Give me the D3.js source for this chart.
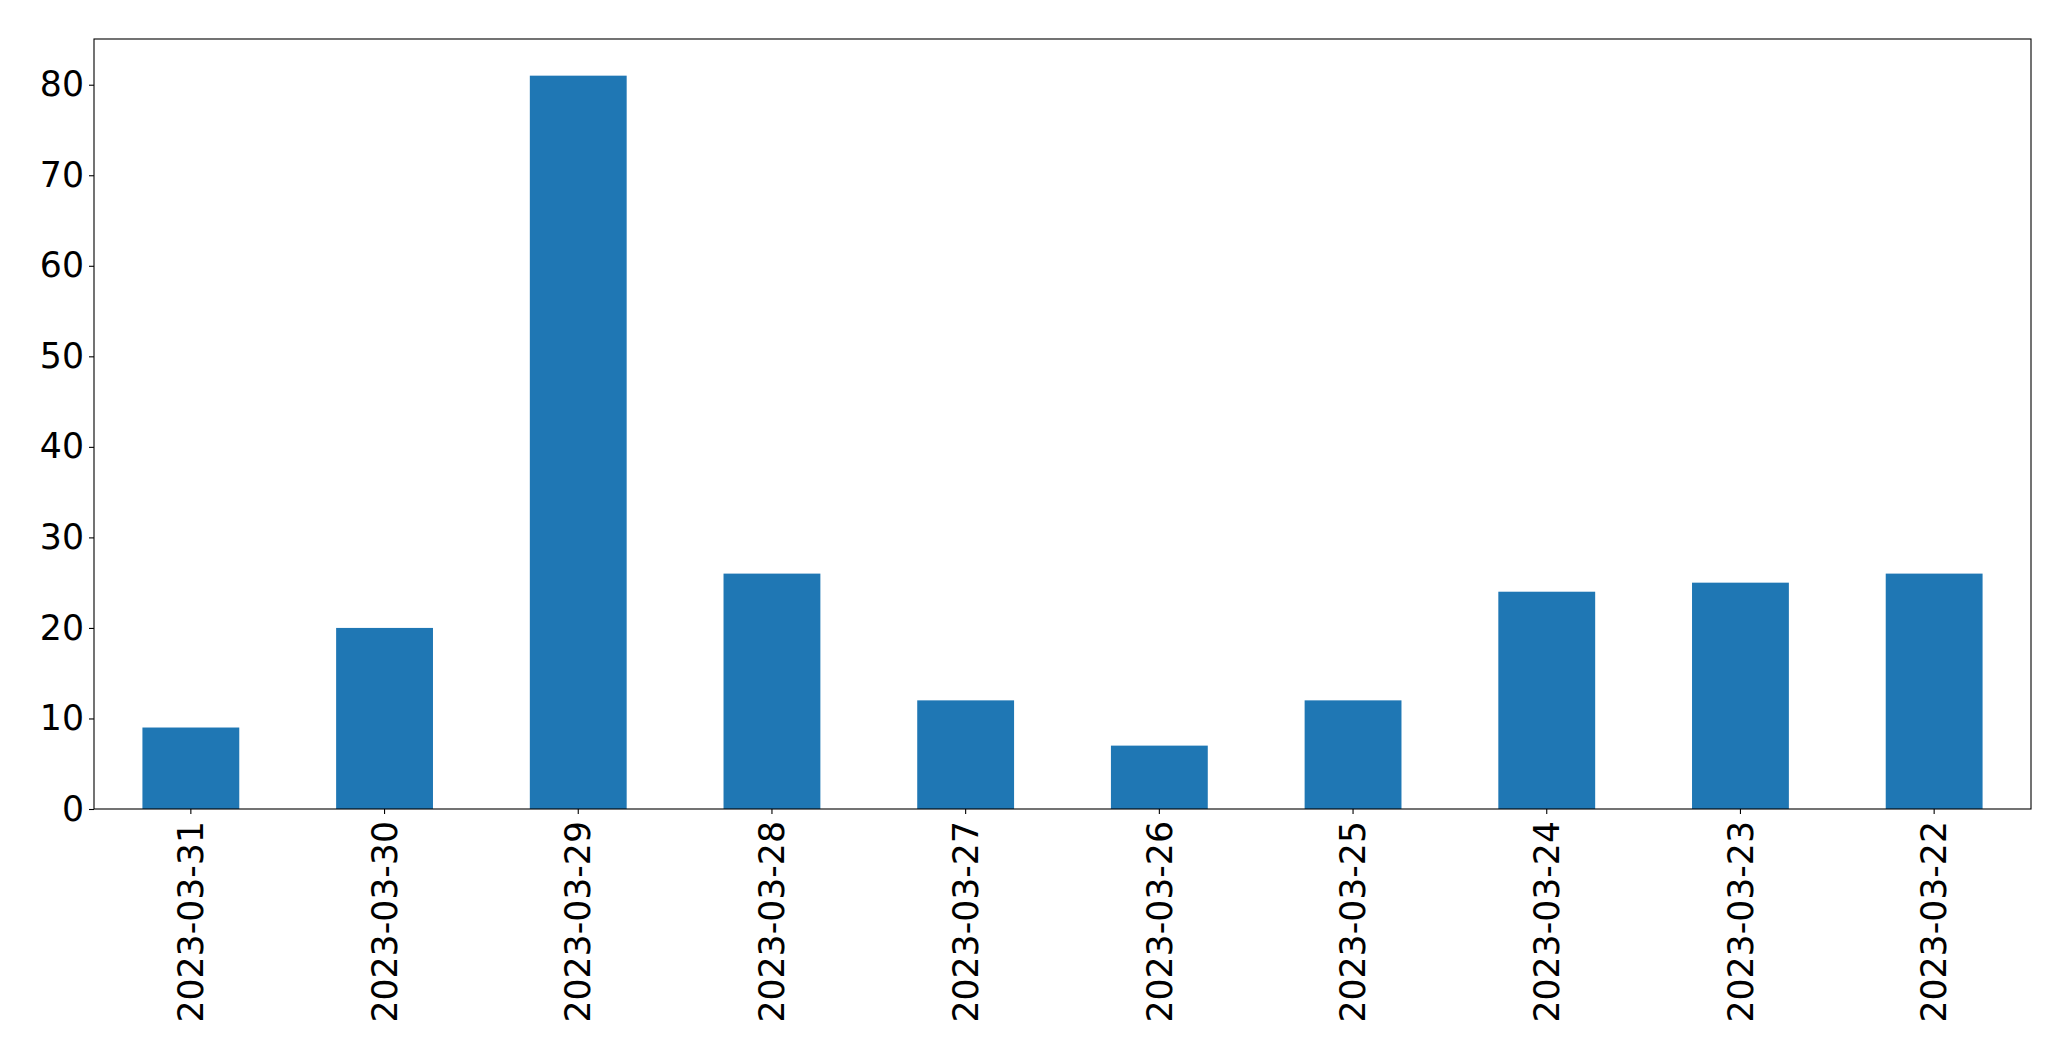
<!DOCTYPE html>
<html>
<head>
<meta charset="utf-8">
<script src="https://cdn.jsdelivr.net/npm/d3@7"></script>
<style>
html, body { margin: 0; padding: 0; background: #fff; }
svg { display: block; }
</style>
</head>
<body>
<svg id="chart" width="2071" height="1061"></svg>
<script>
const categories = ["2023-03-31", "2023-03-30", "2023-03-29", "2023-03-28", "2023-03-27", "2023-03-26", "2023-03-25", "2023-03-24", "2023-03-23", "2023-03-22"];
const values = [9, 20, 81, 26, 12, 7, 12, 24, 25, 26];
const yTicks = [0, 10, 20, 30, 40, 50, 60, 70, 80];

const W = 2071, H = 1061;
const margin = { left: 94, right: 40, top: 39, bottom: 252 };
const iw = W - margin.left - margin.right;
const ih = H - margin.top - margin.bottom;
const fontSize = 34.7;
const font = "'DejaVu Sans', sans-serif";

const svg = d3.select("#chart");
const g = svg.append("g").attr("transform", `translate(${margin.left},${margin.top})`);

const x = d3.scaleBand().domain(categories).range([0, iw]).paddingInner(0.5).paddingOuter(0.25);
const y = d3.scaleLinear().domain([0, d3.max(values) * 1.05]).range([ih, 0]);

g.selectAll("rect.bar")
  .data(values)
  .join("rect")
  .attr("class", "bar")
  .attr("x", (d, i) => x(categories[i]))
  .attr("y", d => y(d))
  .attr("width", x.bandwidth())
  .attr("height", d => y(0) - y(d))
  .attr("fill", "#1f77b4");

// y axis
const yAxis = g.append("g")
  .call(d3.axisLeft(y).tickValues(yTicks).tickSize(5).tickPadding(5).tickFormat(d3.format("d")));
yAxis.select(".domain").remove();
yAxis.selectAll(".tick line").attr("stroke", "#000").attr("stroke-width", 1.1);
yAxis.selectAll(".tick text").attr("font-family", font).attr("font-size", fontSize).attr("fill", "#000");

// x axis
const xAxis = g.append("g")
  .attr("transform", `translate(0,${ih})`)
  .call(d3.axisBottom(x).tickSize(5).tickPadding(5));
xAxis.select(".domain").remove();
xAxis.selectAll(".tick line").attr("stroke", "#000").attr("stroke-width", 1.1);
xAxis.selectAll(".tick text")
  .attr("font-family", font)
  .attr("font-size", fontSize)
  .attr("fill", "#000")
  .attr("transform", "rotate(-90)")
  .attr("text-anchor", "end")
  .attr("dy", "0.35em")
  .attr("x", -12)
  .attr("y", 0);

// frame
g.append("rect")
  .attr("x", 0).attr("y", 0).attr("width", iw).attr("height", ih)
  .attr("fill", "none").attr("stroke", "#000").attr("stroke-width", 1.1);
</script>
</body>
</html>
